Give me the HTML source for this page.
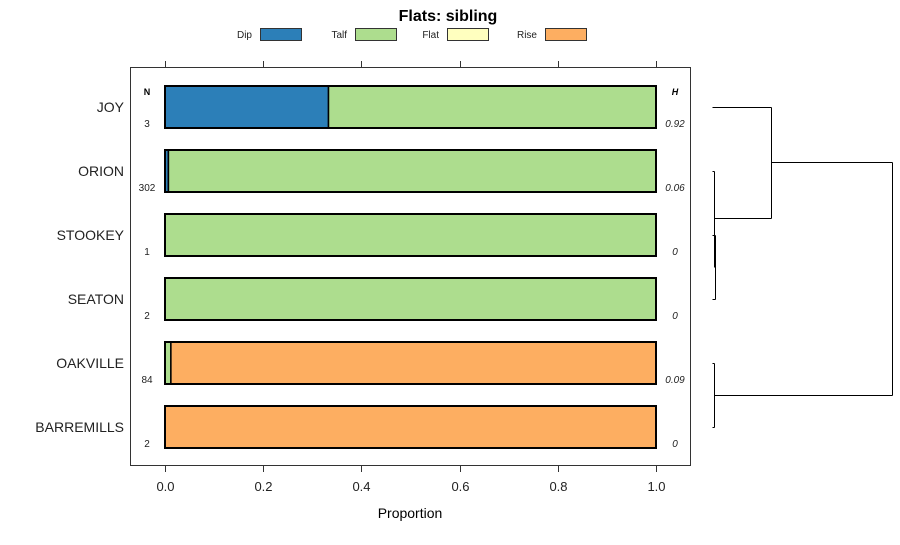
<!DOCTYPE html>
<html><head><meta charset="utf-8">
<style>
body{margin:0;background:#fff;font-family:"Liberation Sans",sans-serif;}
svg text{font-family:"Liberation Sans",sans-serif;}
</style></head>
<body>
<svg id="chart" width="900" height="540" xmlns="http://www.w3.org/2000/svg">
<text x="448" y="21" text-anchor="middle" font-size="16" font-weight="bold">Flats: sibling</text>
<g id="legend"></g>
<rect x="130.5" y="67.5" width="560" height="398" fill="none" stroke="#333"/>
<g id="axes"></g>
<g id="bars"></g>
<g id="dendro"></g>
<text x="410" y="518" text-anchor="middle" font-size="14">Proportion</text>
</svg>
<script>
const categories=["JOY","ORION","STOOKEY","SEATON","OAKVILLE","BARREMILLS"];
const counts=["3","302","1","2","84","2"];
const entropy=["0.92","0.06","0","0","0.09","0"];
const dip=[0.333,0.007,0,0,0,0];
const talf=[0.667,0.993,1,1,0.012,0];
const flat=[0,0,0,0,0,0];
const rise=[0,0,0,0,0.988,1];
const seriesNames=["Dip","Talf","Flat","Rise"];
const seriesColors=["#2c7fb8","#addd8e","#ffffbf","#fdae61"];
const ticks=[0,0.2,0.4,0.6,0.8,1.0];
const tickLabels=["0.0","0.2","0.4","0.6","0.8","1.0"];

const NS="http://www.w3.org/2000/svg";
const xs=v=>165+v*491;
const yc=i=>107+i*64;
function mk(tag,attrs,parent,txt){const e=document.createElementNS(NS,tag);for(const k in attrs)e.setAttribute(k,attrs[k]);if(txt!==undefined)e.textContent=txt;parent.appendChild(e);return e;}
const axes=document.getElementById('axes'),bars=document.getElementById('bars'),leg=document.getElementById('legend'),den=document.getElementById('dendro');

const legX=[243,338,430,528];
seriesNames.forEach((n,i)=>{
  const t=mk('text',{x:legX[i]+9,y:38,'font-size':10,'text-anchor':'end',fill:'#222'},leg,n);
  
  
  const r=mk('rect',{x:legX[i]+17.5,y:28.5,width:41,height:12,fill:seriesColors[i],stroke:'#333'},leg);
  
  
});

ticks.forEach((v,i)=>{
  const x=Math.round(xs(v))+0.5;
  const t1=mk('line',{x1:x,x2:x,y1:61,y2:67,stroke:'#333'},axes);
  
  
  const t2=mk('line',{x1:x,x2:x,y1:466,y2:472,stroke:'#333'},axes);
  
  
  const l=mk('text',{x:x,y:491,'font-size':13,'text-anchor':'middle',fill:'#222'},axes,tickLabels[i]);
  
  
});
let h=mk('text',{x:147,y:95,'font-size':9,'font-weight':'bold','text-anchor':'middle'},axes,'N');


h=mk('text',{x:675,y:95,'font-size':9,'font-weight':'bold','font-style':'italic','text-anchor':'middle'},axes,'H');



const series=[dip,talf,flat,rise];
categories.forEach((c,i)=>{
  const y0=yc(i)-21;
  let cum=0;
  series.forEach((s,k)=>{
    if(s[i]>0){
      const r=mk('rect',{x:xs(cum),y:y0,width:xs(cum+s[i])-xs(cum),height:42,fill:seriesColors[k],stroke:'#000','stroke-width':1.5},bars);
      
      
    }
    cum+=s[i];
  });
  const o=mk('rect',{x:xs(0),y:y0,width:xs(1)-xs(0),height:42,fill:'none',stroke:'#000','stroke-width':2},bars);
  
  
  const lab=mk('text',{x:124,y:yc(i)+5,'font-size':14,'text-anchor':'end',fill:'#222'},bars,c);
  
  
  const n=mk('text',{x:147,y:yc(i)+20,'font-size':10,'text-anchor':'middle',fill:'#222'},bars,counts[i]);
  
  
  const e=mk('text',{x:675,y:yc(i)+20,'font-size':10,'font-style':'italic','text-anchor':'middle',fill:'#222'},bars,entropy[i]);
  
  
});

const segs=[
 [712,yc(0),771,yc(0)],[771,yc(0),771,218],[714,218,771,218],
 [714,yc(1),714,267],[712,yc(1),714,yc(1)],
 [715,yc(2),715,yc(3)],[712,yc(2),715,yc(2)],[712,yc(3),715,yc(3)],
 [771,162,892,162],[892,162,892,395],[714,395,892,395],
 [714,yc(4),714,yc(5)],[712,yc(4),714,yc(4)],[712,yc(5),714,yc(5)]
];
segs.forEach(s=>{
  const l=mk('line',{x1:s[0]+0.5,y1:s[1]+0.5,x2:s[2]+0.5,y2:s[3]+0.5,stroke:'#000'},den);
  
  
});
</script>
</body></html>
